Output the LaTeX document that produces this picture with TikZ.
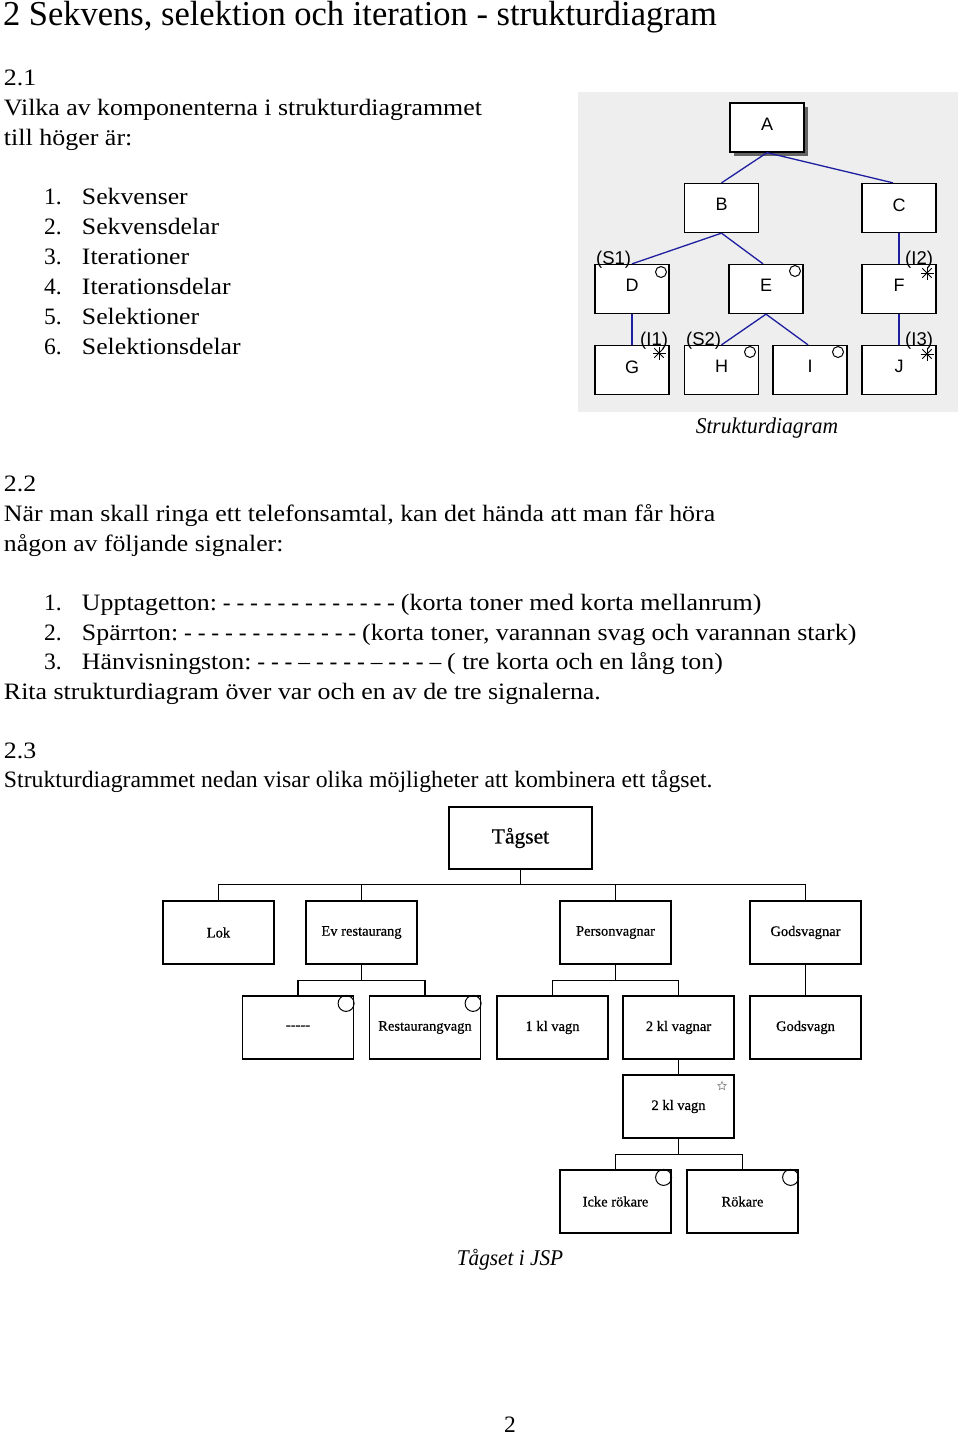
\documentclass[tikz,border=0pt]{standalone}
\usepackage{fontspec}
\usepackage{graphicx}
\setmainfont{Liberation Serif}
\newfontfamily\sdsans{Liberation Sans}
\newfontfamily\jspserif[FakeBold=0.6]{Liberation Serif}
\usetikzlibrary{shapes.geometric}
\definecolor{sdbg}{RGB}{238,238,238}
\definecolor{sdblue}{RGB}{30,30,160}
\definecolor{sdshadow}{RGB}{100,100,100}
\newcommand{\bodyfnt}{\fontsize{23.5}{28}\selectfont}
\newcommand{\capfnt}{\fontsize{22.5}{27}\selectfont\itshape}
\newcommand{\titlefnt}{\fontsize{35}{40}\selectfont}
\newcommand{\sdfnt}{\sdsans\fontsize{18}{20}\selectfont}
\newcommand{\sdlabfnt}{\sdsans\fontsize{18.5}{21}\selectfont}
\newcommand{\jspfnt}{\jspserif\fontsize{14.5}{17}\selectfont}
\newcommand{\li}[1]{\makebox[38pt][l]{#1}}
\newcommand{\sx}[2][1.1]{\scalebox{#1}[1]{#2}}
\tikzset{
  txt/.style={anchor=base west, inner sep=0pt, outer sep=0pt, font=\bodyfnt},
  captxt/.style={anchor=base, inner sep=0pt, outer sep=0pt, font=\capfnt},
  sbox/.style={draw=black, line width=1.3pt, fill=white, minimum width=74pt, minimum height=49pt, inner sep=0pt, font=\sdfnt},
  slab/.style={anchor=base west, inner sep=0pt, font=\sdlabfnt},
  bline/.style={draw=sdblue, line width=1.3pt},
  jbox/.style={draw=black, line width=1.2pt, fill=white, minimum width=111pt, minimum height=63pt, inner sep=0pt, font=\jspfnt},
  jline/.style={draw=black, line width=1.3pt},
  markline/.style={draw=black, line width=1pt},
}
\begin{document}
\begin{tikzpicture}[x=1pt,y=-1pt]
\useasboundingbox (0,0) rectangle (960,1436);
\fill[white] (0,0) rectangle (960,1436);

% ---- text ----
\node[txt, font=\titlefnt, text height=24pt, text depth=7pt] (title) at (3,25.5) {\sx[0.986]{2 Sekvens, selektion och iteration - strukturdiagram}};
\node[txt] (s21) at (4,85.5) {\sx{2.1}};
\node[txt] (q1) at (4,115.5) {\sx{Vilka av komponenterna i strukturdiagrammet}};
\node[txt] (q2) at (4,145.5) {\sx[1.105]{till höger är:}};
\node[txt] (l1) at (44,204.5) {\li{1.}\sx[1.095]{Sekvenser}};
\node[txt] (l2) at (44,234.5) {\li{2.}\sx[1.095]{Sekvensdelar}};
\node[txt] (l3) at (44,264.5) {\li{3.}\sx[1.095]{Iterationer}};
\node[txt] (l4) at (44,294.5) {\li{4.}\sx[1.095]{Iterationsdelar}};
\node[txt] (l5) at (44,324.5) {\li{5.}\sx[1.095]{Selektioner}};
\node[txt] (l6) at (44,354.5) {\li{6.}\sx[1.095]{Selektionsdelar}};

\node[txt] (s22) at (4,491.5) {\sx{2.2}};
\node[txt] (p1) at (4,521.5) {\sx[1.102]{När man skall ringa ett telefonsamtal, kan det hända att man får höra}};
\node[txt] (p2) at (4,551.5) {\sx[1.095]{någon av följande signaler:}};
\node[txt] (m1) at (44,610.5) {\li{1.}\sx{Upptagetton:} - - - - - - - - - - - - - \sx[1.105]{(korta toner med korta mellanrum)}};
\node[txt] (m2) at (44,640.5) {\li{2.}\sx{Spärrton:} - - - - - - - - - - - - - \sx[1.105]{(korta toner, varannan svag och varannan stark)}};
\node[txt] (m3) at (44,669.5) {\li{3.}\sx{Hänvisningston:} - - - – - - - - – - - - – \sx{( tre korta och en lång ton)}};
\node[txt] (p3) at (4,699.5) {\sx[1.102]{Rita strukturdiagram över var och en av de tre signalerna.}};
\node[txt] (s23) at (4,758.5) {\sx{2.3}};
\node[txt] (p4) at (4,787.5) {\sx[1.01]{Strukturdiagrammet nedan visar olika möjligheter att kombinera ett tågset.}};

% ---- top right structure diagram ----
\fill[sdbg] (578,92) rectangle (958,412);
\fill[sdshadow] (734,107) rectangle (808,156);
\node[sbox] (A) at (767,127.5) {\raisebox{6.5pt}{A}};
\node[sbox] (B) at (721.5,208) {\raisebox{6.5pt}{B}};
\node[sbox] (C) at (899,208) {\raisebox{6.5pt}{C}};
\node[sbox] (D) at (632,289) {\raisebox{6.5pt}{D}};
\node[sbox] (E) at (766,289) {\raisebox{6.5pt}{E}};
\node[sbox] (F) at (899,289) {\raisebox{6.5pt}{F}};
\node[sbox] (G) at (632,370) {\raisebox{6.5pt}{G}};
\node[sbox] (H) at (721.5,370) {\raisebox{6.5pt}{H}};
\node[sbox] (I) at (810,370) {\raisebox{6.5pt}{I}};
\node[sbox] (J) at (899,370) {\raisebox{6.5pt}{J}};
\draw[bline] (A.south) -- (B.north);
\draw[bline] (A.south) -- ([xshift=-6pt]C.north);
\draw[bline] (B.south) -- (D.north);
\draw[bline] (B.south) -- ([xshift=-3pt]E.north);
\draw[bline] (C.south) -- (F.north);
\draw[bline] (D.south) -- (G.north);
\draw[bline] (E.south) -- (H.north);
\draw[bline] (E.south) -- ([xshift=-2pt]I.north);
\draw[bline] (F.south) -- (J.north);
\node[slab] (lS1) at (596,264) {(S1)};
\node[slab] (lI2) at (905,264) {(I2)};
\node[slab] (lI1) at (640,345) {(I1)};
\node[slab] (lS2) at (686,345) {(S2)};
\node[slab] (lI3) at (905,345) {(I3)};
\draw[markline] (661,272) circle[radius=5.5];
\draw[markline] (795,271) circle[radius=5.5];
\draw[markline] (750,352) circle[radius=5.5];
\draw[markline] (838,352) circle[radius=5.5];
\foreach \cx/\cy in {927/273, 659/353, 927/354}{
  \draw[markline] (\cx-6.5,\cy) -- (\cx+6.5,\cy);
  \draw[markline] (\cx,\cy-6.5) -- (\cx,\cy+6.5);
  \draw[markline] (\cx-4.7,\cy-4.7) -- (\cx+4.7,\cy+4.7);
  \draw[markline] (\cx-4.7,\cy+4.7) -- (\cx+4.7,\cy-4.7);
}
\node[captxt] (cap1) at (767,433) {\sx[0.955]{Strukturdiagram}};

% ---- bottom JSP diagram ----
\node[jbox, minimum width=143pt, minimum height=62pt, font=\jspserif\fontsize{21.5}{24}\selectfont] (T) at (520.5,838) {Tågset};
\node[jbox] (lok) at (218.5,932.5) {Lok};
\node[jbox] (ev) at (361.5,932.5) {Ev restaurang};
\node[jbox] (pv) at (615.5,932.5) {Personvagnar};
\node[jbox] (gv) at (805.5,932.5) {Godsvagnar};
\node[jbox] (dash) at (298,1027.5) {{-}{-}{-}{-}{-}};
\node[jbox] (rv) at (425,1027.5) {Restaurangvagn};
\node[jbox] (k1) at (552.5,1027.5) {1 kl vagn};
\node[jbox] (k2s) at (678.5,1027.5) {2 kl vagnar};
\node[jbox] (gvn) at (805.5,1027.5) {Godsvagn};
\node[jbox] (k2) at (678.5,1106.5) {2 kl vagn};
\node[jbox] (ir) at (615.5,1201.5) {Icke rökare};
\node[jbox] (rk) at (742.5,1201.5) {Rökare};

\draw[jline] (T.south) -- ++(0,15) -| (lok.north);
\draw[jline] (T.south) -- ++(0,15) -| (ev.north);
\draw[jline] (T.south) -- ++(0,15) -| (pv.north);
\draw[jline] (T.south) -- ++(0,15) -| (gv.north);
\draw[jline] (ev.south) -- ++(0,16) -| (dash.north);
\draw[jline] (ev.south) -- ++(0,16) -| (rv.north);
\draw[jline] (pv.south) -- ++(0,16) -| (k1.north);
\draw[jline] (pv.south) -- ++(0,16) -| (k2s.north);
\draw[jline] (gv.south) -- (gvn.north);
\draw[jline] (k2s.south) -- (k2.north);
\draw[jline] (k2.south) -- ++(0,16) -| (ir.north);
\draw[jline] (k2.south) -- ++(0,16) -| (rk.north);

\foreach \n in {dash, rv, ir, rk}{
  \draw[markline] ([xshift=-8pt,yshift=-8pt]\n.north east) circle[radius=8];
}
\node[star, star points=5, star point ratio=2.2, draw=gray, line width=0.6pt, minimum size=9pt, inner sep=0pt] (st) at (722,1086) {};

\node[captxt] (cap2) at (510,1265) {\sx[0.946]{Tågset i JSP}};
\node[anchor=base, inner sep=0pt, font=\bodyfnt] (pg) at (510,1432) {2};
\end{tikzpicture}
\end{document}
